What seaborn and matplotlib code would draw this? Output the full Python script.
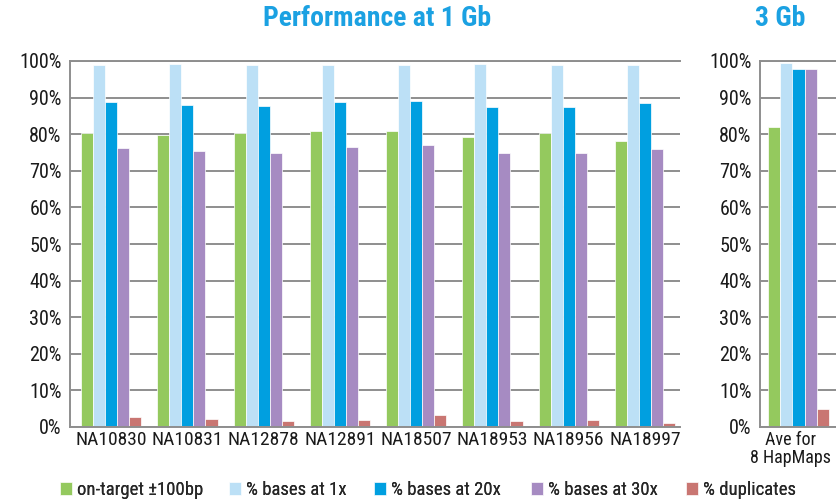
import matplotlib
matplotlib.use("Agg")
import matplotlib.pyplot as plt
import matplotlib.transforms as mtransforms
import seaborn as sns
import pandas as pd
from matplotlib.ticker import FuncFormatter, MultipleLocator

samples = ["NA10830", "NA10831", "NA12878", "NA12891", "NA18507", "NA18953", "NA18956", "NA18997"]
series = ["on-target \u00b1100bp", "% bases at 1x", "% bases at 20x", "% bases at 30x", "% duplicates"]
on_target = [80.3, 79.8, 80.2, 81.0, 81.0, 79.1, 80.3, 78.1]
bases_1x = [98.9, 99.2, 98.9, 98.9, 98.9, 99.2, 98.9, 98.9]
bases_20x = [88.8, 88.1, 87.7, 88.8, 89.2, 87.3, 87.3, 88.5]
bases_30x = [76.2, 75.5, 75.0, 76.6, 77.0, 74.8, 74.8, 75.9]
duplicates = [2.8, 2.1, 1.6, 2.0, 3.2, 1.6, 2.0, 1.2]

ave_label = ["Ave for\n8 HapMaps"]
ave_values = [82.0, 99.5, 97.8, 97.8, 4.8]

colors = ["#94C95E", "#BCE0F6", "#009FE0", "#A68BC2", "#C97672"]
title_color = "#1BA1E2"

rows = []
for i, s in enumerate(samples):
    for name, vals in zip(series, [on_target, bases_1x, bases_20x, bases_30x, duplicates]):
        rows.append({"sample": s, "metric": name, "value": vals[i]})
df = pd.DataFrame(rows)
df_ave = pd.DataFrame({"sample": ave_label * 5, "metric": series, "value": ave_values})

sns.set_theme(style="white")
fam = ["Roboto Condensed", "Archivo Narrow", "DejaVu Sans"]
plt.rcParams["font.family"] = fam

fig = plt.figure(figsize=(8.37, 5.0), dpi=100)
ax1 = fig.add_axes([70 / 837, 1 - 427 / 500, (680 - 70) / 837, (427 - 61) / 500])
ax2 = fig.add_axes([760 / 837, 1 - 427 / 500, (837 - 760) / 837, (427 - 61) / 500])

for ax, data in [(ax1, df), (ax2, df_ave)]:
    sns.barplot(data=data, x="sample", y="value", hue="metric", hue_order=series,
                palette=colors, saturation=1, width=0.79, edgecolor="white", linewidth=0.5,
                ax=ax, errorbar=None)
    ax.set_ylim(0, 100)
    ax.yaxis.set_major_locator(MultipleLocator(10))
    ax.yaxis.set_major_formatter(FuncFormatter(lambda v, p: f"{int(round(v))}%"))
    ax.grid(axis="y", color="#8E8E8E", linewidth=1.4, zorder=0)
    ax.set_axisbelow(True)
    ax.set_xlabel("")
    ax.set_ylabel("")
    for sp in ["left", "bottom", "top"]:
        ax.spines[sp].set_color("#8E8E8E")
        ax.spines[sp].set_linewidth(1.4)
    ax.spines["right"].set_visible(False)
    ax.tick_params(axis="x", length=0, labelsize=14, colors="#1a1a1a", pad=3)
    ax.tick_params(axis="y", length=0, labelsize=14.5, colors="#1a1a1a", pad=6)
    if ax.get_legend() is not None:
        ax.get_legend().remove()

ax1.set_xlim(-0.54, 7.46)
ax2.set_xlim(-0.5, 0.5)
ax2.tick_params(axis="x", labelsize=13, pad=3)
shift = mtransforms.ScaledTranslation(-8 / 100, 0, fig.dpi_scale_trans)
for lbl in ax2.get_xticklabels():
    lbl.set_linespacing(1.0)
    lbl.set_transform(lbl.get_transform() + shift)

fig.text(377 / 837, 1 - 18 / 500, "Performance at 1 Gb", color=title_color, fontsize=20,
         fontweight="bold", ha="center", va="center")
fig.text(780 / 837, 1 - 18 / 500, "3 Gb", color=title_color, fontsize=20,
         fontweight="bold", ha="center", va="center")

handles, labels = ax1.get_legend_handles_labels()
if not handles:
    from matplotlib.patches import Patch
    handles = [Patch(color=c) for c in colors]
    labels = series
legend_x = [60, 229, 374, 531, 686]
for h, l, x in zip(handles[:5], labels[:5], legend_x):
    leg = fig.legend([h], [l], loc="center left", bbox_to_anchor=(x / 837, 1 - 490 / 500),
                     frameon=False, fontsize=13.5, handlelength=0.65, handleheight=0.65,
                     handletextpad=0.25, borderaxespad=0, borderpad=0)
    fig.add_artist(leg)

fig.savefig("out.png", dpi=100)
